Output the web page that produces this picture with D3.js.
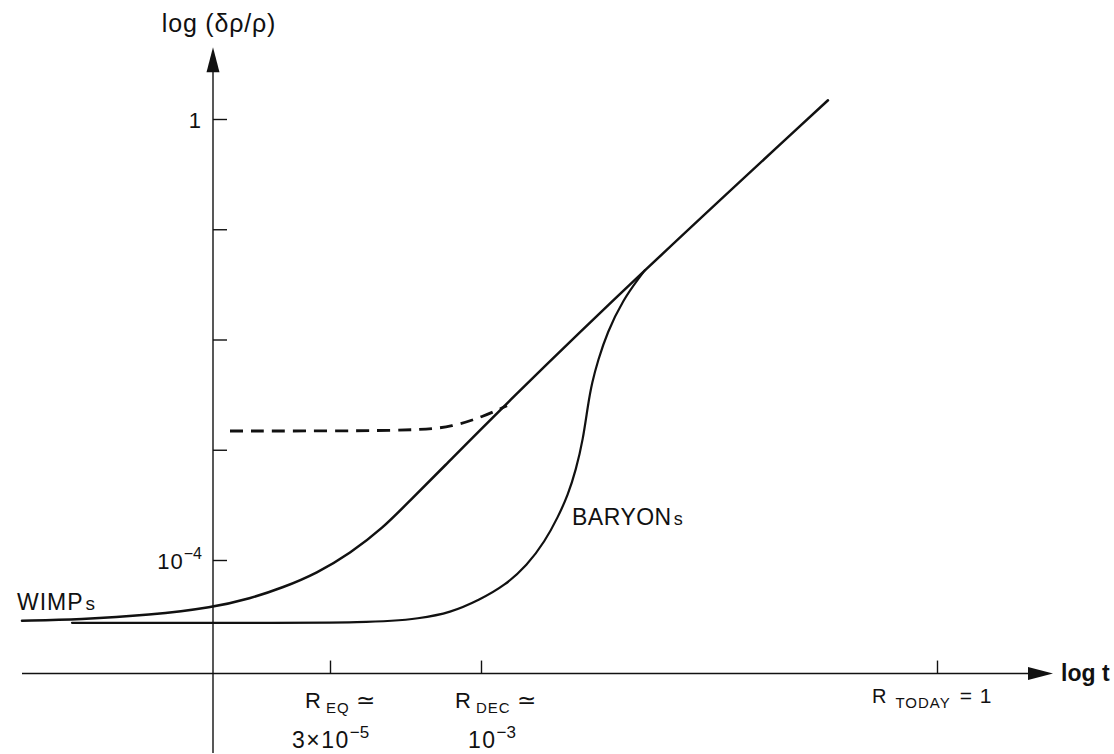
<!DOCTYPE html>
<html>
<head>
<meta charset="utf-8">
<script src="https://cdn.jsdelivr.net/npm/d3@7"></script>
<style>
  html, body { margin: 0; padding: 0; background: #fff; }
  svg { display: block; }
  text { font-family: "Liberation Sans", Arial, sans-serif; fill: #111; }
</style>
</head>
<body>
<svg id="chart" width="1114" height="754"></svg>
<script>
// Growth of density perturbations: log(δρ/ρ) against log t (schematic units)

// tick positions along log t and their labels
const epochTicks = [1.17, 2.68, 7.24];
const epochNames = ["EQ", "DEC", "TODAY"];
const epochValues = ["3×10|-5", "10|-3", "= 1"];

// log(δρ/ρ) ticks, one decade apart
const yTicks = [0, -1, -2, -3, -4];
const yTickLabels = ["1", "", "", "", "10|-4"];

// axis extents (log t, log δρ/ρ)
const xAxisExtent = [-1.91, 8.40];
const yAxisExtent = [-5.75, 0.65];
const xAxisLevel = -5.03;

// WIMPs: slow growth before equality, then δ ∝ t^(2/3)
const wimps = [
  [-1.91, -4.55], [-1.33, -4.54], [-0.63, -4.50], [0, -4.43], [0.37, -4.35],
  [0.70, -4.25], [1.04, -4.12], [1.37, -3.94], [1.70, -3.71], [1.97, -3.46],
  [2.27, -3.19], [2.90, -2.61], [4.24, -1.43], [6.15, 0.17]
];

// alternative (dashed) track joining the WIMP line
const dashedTrack = [
  [0.17, -2.83], [2.04, -2.83], [2.40, -2.79], [2.70, -2.70], [2.94, -2.60]
];

// baryons: frozen until decoupling, then fall into the WIMP wells
const baryons = [
  [-1.41, -4.57], [0, -4.57], [1.64, -4.57], [2.07, -4.53], [2.37, -4.48],
  [2.67, -4.36], [2.92, -4.23], [3.14, -4.05], [3.32, -3.83], [3.45, -3.61],
  [3.55, -3.41], [3.63, -3.18], [3.70, -2.91], [3.75, -2.59], [3.79, -2.39],
  [3.85, -2.19], [3.94, -1.94], [4.10, -1.64], [4.27, -1.43], [4.32, -1.37]
];

const svg = d3.select("#chart");

const x = d3.scaleLinear().domain(xAxisExtent).range([22, 1053]);
const y = d3.scaleLinear().domain([0, -4]).range([119, 560]);

const ink = "#111";

// --- axes ---------------------------------------------------------------
const arrowLen = 25, arrowHalf = 6.5;

// horizontal axis line + arrow
svg.append("line")
  .attr("x1", x(xAxisExtent[0])).attr("x2", x(xAxisExtent[1]) - arrowLen + 2)
  .attr("y1", y(xAxisLevel)).attr("y2", y(xAxisLevel))
  .attr("stroke", ink).attr("stroke-width", 1.4);
svg.append("path")
  .attr("d", d3.line()([
    [x(xAxisExtent[1]), y(xAxisLevel)],
    [x(xAxisExtent[1]) - arrowLen, y(xAxisLevel) - arrowHalf],
    [x(xAxisExtent[1]) - arrowLen, y(xAxisLevel) + arrowHalf]
  ]) + "Z")
  .attr("fill", ink);

// vertical axis line + arrow
svg.append("line")
  .attr("x1", x(0)).attr("x2", x(0))
  .attr("y1", y(yAxisExtent[0])).attr("y2", y(yAxisExtent[1]) + arrowLen - 2)
  .attr("stroke", ink).attr("stroke-width", 1.4);
svg.append("path")
  .attr("d", d3.line()([
    [x(0), y(yAxisExtent[1])],
    [x(0) - arrowHalf, y(yAxisExtent[1]) + arrowLen],
    [x(0) + arrowHalf, y(yAxisExtent[1]) + arrowLen]
  ]) + "Z")
  .attr("fill", ink);

// y ticks (to the right of the axis)
const yAxis = svg.append("g")
  .attr("transform", `translate(${x(0)},0)`)
  .call(d3.axisRight(y).tickValues(yTicks).tickSize(14).tickFormat(""));
yAxis.select(".domain").remove();
yAxis.selectAll(".tick line").attr("stroke", ink).attr("stroke-width", 1.4);

// x ticks (pointing up from the axis)
const xAxis = svg.append("g")
  .attr("transform", `translate(0,${y(xAxisLevel)})`)
  .call(d3.axisTop(x).tickValues(epochTicks).tickSize(13).tickFormat(""));
xAxis.select(".domain").remove();
xAxis.selectAll(".tick line").attr("stroke", ink).attr("stroke-width", 1.4);

// helper: "base|sup" -> base with superscript
function supText(sel, str, baseSize, supSize, spacing) {
  const [base, sup] = str.split("|");
  sel.append("tspan").attr("font-size", baseSize).attr("letter-spacing", spacing || 0).text(base);
  if (sup) {
    sel.append("tspan").attr("font-size", supSize).attr("dx", 0).attr("dy", -10)
      .text(sup.replace("-", "\u2212"));
  }
}

// y tick labels
yTicks.forEach((v, i) => {
  if (!yTickLabels[i]) return;
  const t = svg.append("text")
    .attr("x", x(0) - 11).attr("y", y(v) + 9)
    .attr("text-anchor", "end");
  supText(t, yTickLabels[i], 22, 16, 1);
});

// y axis title
svg.append("text")
  .attr("x", x(0) + 6).attr("y", y(yAxisExtent[1]) - 15)
  .attr("text-anchor", "middle").attr("font-size", 25).attr("letter-spacing", 0.8)
  .text("log (δρ/ρ)");

// x axis title
svg.append("text")
  .attr("x", x(xAxisExtent[1]) + 8).attr("y", y(xAxisLevel) + 7)
  .attr("font-size", 23).attr("font-weight", "bold")
  .text("log t");

// epoch labels under the axis
const nameOffsets = [-25, -26, -65];
const valueOffsets = [-38, -13, 20];
epochTicks.forEach((u, i) => {
  const last = i === epochTicks.length - 1;
  const t = svg.append("text")
    .attr("x", x(u) + nameOffsets[i])
    .attr("y", y(xAxisLevel) + (last ? 29 : 34));
  t.append("tspan").attr("font-size", last ? 20 : 22).text("R");
  t.append("tspan").attr("font-size", 15).attr("dx", last ? 9 : 5).attr("dy", 5)
    .attr("letter-spacing", 1).text(epochNames[i]);
  if (!last) {
    t.append("tspan").attr("font-size", 23).attr("dx", 6).attr("dy", -5).text("≃");
    const t2 = svg.append("text")
      .attr("x", x(u) + valueOffsets[i])
      .attr("y", y(xAxisLevel) + 74);
    supText(t2, epochValues[i], 23, 17, 1.5);
  } else {
    t.append("tspan").attr("font-size", 21).attr("dx", 9).attr("dy", -5)
      .attr("letter-spacing", 1).text(epochValues[i]);
  }
});

// --- curves -------------------------------------------------------------
const line = d3.line()
  .x(d => x(d[0])).y(d => y(d[1]))
  .curve(d3.curveBasis);

svg.append("path")
  .attr("d", line(baryons))
  .attr("fill", "none").attr("stroke", ink).attr("stroke-width", 2.2)
  .attr("stroke-linecap", "round");

svg.append("path")
  .attr("d", line(wimps))
  .attr("fill", "none").attr("stroke", ink).attr("stroke-width", 2.5)
  .attr("stroke-linecap", "round");

svg.append("path")
  .attr("d", line(dashedTrack))
  .attr("fill", "none").attr("stroke", ink).attr("stroke-width", 2.8)
  .attr("stroke-dasharray", "13 8");

// series labels
svg.append("text")
  .attr("x", x(wimps[0][0]) - 5).attr("y", y(wimps[0][1]) - 11)
  .attr("font-size", 23).attr("letter-spacing", 1)
  .call(t => {
    t.append("tspan").text("WIMP");
    t.append("tspan").attr("font-size", 19).attr("dx", 2).text("s");
  });

svg.append("text")
  .attr("x", x(3.59)).attr("y", y(-3.68))
  .attr("font-size", 23).attr("letter-spacing", 0.5)
  .call(t => {
    t.append("tspan").text("BARYON");
    t.append("tspan").attr("font-size", 18).attr("dx", 2).text("s");
  });
</script>
</body>
</html>
